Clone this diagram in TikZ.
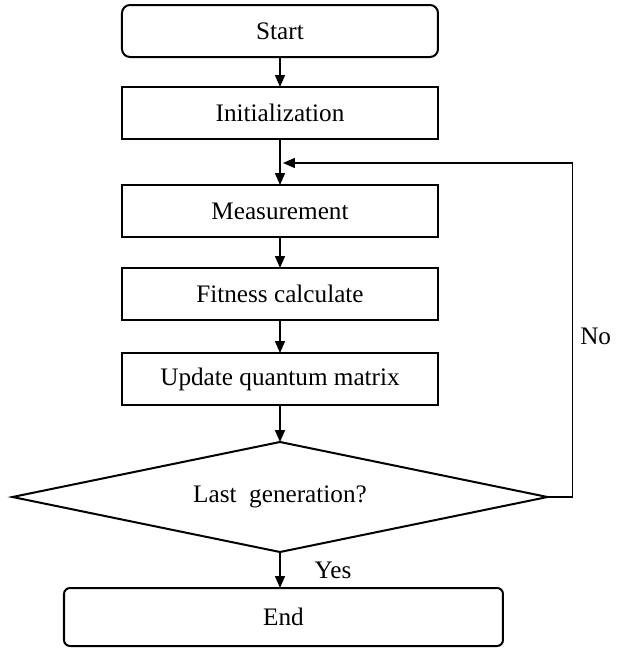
\documentclass[tikz,border=0pt]{standalone}
\usepackage{fontspec}
\setmainfont{Liberation Serif}
\usepackage{tikz}
\usetikzlibrary{shapes.geometric, arrows.meta, positioning}

\begin{document}
\begin{tikzpicture}[
  node distance=15pt,
  proc/.style={rectangle, draw, line width=1pt, minimum width=158pt, minimum height=26pt,
    inner sep=0pt, outer sep=0pt, font=\fontsize{12.6}{15}\selectfont},
  term/.style={proc, rounded corners=4pt},
  decide/.style={diamond, aspect=4.86, draw, line width=1pt, minimum width=267.5pt, minimum height=55pt,
    inner sep=0pt, outer sep=0pt, font=\fontsize{12.6}{15}\selectfont},
  lbl/.style={inner sep=0pt, font=\fontsize{12.6}{15}\selectfont},
  arr/.style={-{Triangle[length=6pt, width=5pt]}, line width=0.75pt}]
\useasboundingbox (0,0) rectangle (309pt,-325pt);
\node[term] (st) at (140pt,-15.5pt) {Start};
\node[proc, below=15pt of st] (ini) {Initialization};
\node[proc, below=23pt of ini] (mea) {Measurement};
\node[proc, below=15.5pt of mea] (fit) {Fitness calculate};
\node[proc, below=16.5pt of fit] (upd) {Update quantum matrix};
\node[decide, below=18.5pt of upd] (dec) {Last~~generation?};
\node[term, below=18pt of dec, xshift=1.75pt, minimum width=219.5pt, minimum height=29pt,
  rounded corners=3pt] (fin) {End};
\coordinate[below=12pt of ini.south] (join);
\draw[arr] (st) -- (ini);
\draw[arr] (ini) -- (mea);
\draw[arr] (mea) -- (fit);
\draw[arr] (fit) -- (upd);
\draw[arr] (upd) -- (dec);
\draw[arr] (dec.south) -- (dec.south |- fin.north) node[lbl, midway, right=17pt] {Yes};
\draw[arr] (dec.east) -- ++(12.5pt,0) |- ([xshift=1.5pt]join) node[lbl, pos=0.24, right=3.5pt] {No};
\end{tikzpicture}
\end{document}
